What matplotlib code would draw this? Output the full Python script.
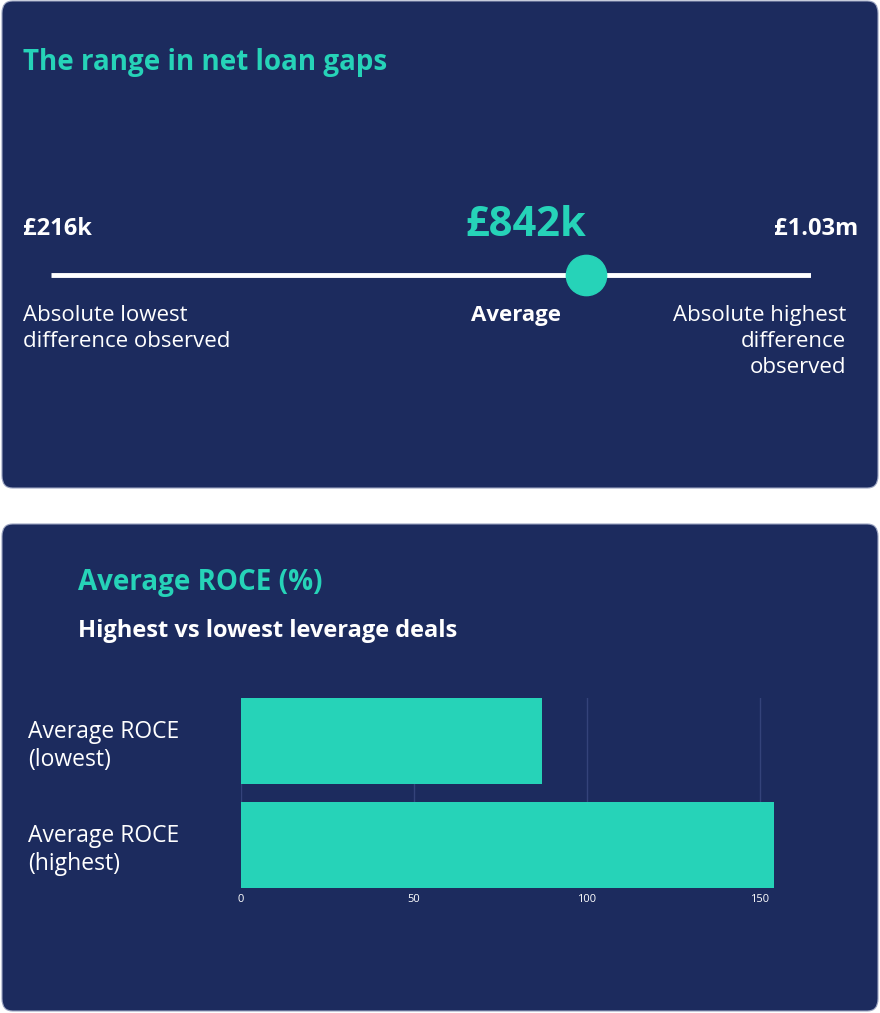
import matplotlib
matplotlib.use("Agg")
import matplotlib.pyplot as plt
from matplotlib.patches import FancyBboxPatch

# data
range_low = 216
range_avg = 842
range_high = 1030
range_labels = ["£216k", "£842k", "£1.03m"]
categories = ["Average ROCE\n(lowest)", "Average ROCE\n(highest)"]
roce_values = [87, 154]
xticks = [0, 50, 100, 150]

NAVY = "#1c2b5e"
TEAL = "#26d3b8"
W, H = 880, 1013
fig = plt.figure(figsize=(W/100, H/100), dpi=100)
fig.patch.set_facecolor("white")
plt.rcParams['font.family'] = ['Open Sans', 'DejaVu Sans']

def fx(x): return x / W
def fy(y): return 1 - y / H

# panels
for (y0, y1) in [(1, 488), (524, 1011)]:
    p = FancyBboxPatch((fx(2), fy(y1)), fx(876), (y1 - y0) / H,
                       boxstyle="round,pad=0,rounding_size=0.012",
                       transform=fig.transFigure, facecolor=NAVY, edgecolor="#9aa3c0", lw=0.8, zorder=-5)
    fig.patches.append(p)

# top panel
fig.text(fx(23), fy(70), "The range in net loan gaps", color=TEAL, fontsize=20, fontweight="bold", va="baseline")
fig.text(fx(23), fy(235), range_labels[0], color="white", fontsize=17, fontweight="bold", va="baseline")
fig.text(fx(526), fy(236), range_labels[1], color=TEAL, fontsize=30, fontweight="bold", va="baseline", ha="center")
fig.text(fx(858), fy(235), range_labels[2], color="white", fontsize=17, fontweight="bold", va="baseline", ha="right")
fig.text(fx(23), fy(305), "Absolute lowest\ndifference observed", color="white", fontsize=16, va="top", linespacing=1.3)
fig.text(fx(516), fy(305), "Average", color="white", fontsize=16, fontweight="bold", va="top", ha="center")
fig.text(fx(846), fy(305), "Absolute highest\ndifference\nobserved", color="white", fontsize=16, va="top", ha="right", linespacing=1.3, multialignment="right")

ax0 = fig.add_axes([fx(51), fy(300), fx(760), 50 / H])
ax0.set_xlim(range_low, range_low + (range_avg - range_low) * 760 / 535)
ax0.set_ylim(-1, 1)
ax0.axis("off")
ax0.plot([range_low, ax0.get_xlim()[1]], [0, 0], color="white", lw=3.5, solid_capstyle="butt")
ax0.plot([range_avg], [0], "o", color=TEAL, markersize=29, zorder=3)

# bottom panel
fig.text(fx(78), fy(590), "Average ROCE (%)", color=TEAL, fontsize=20, fontweight="bold", va="baseline")
fig.text(fx(78), fy(637), "Highest vs lowest leverage deals", color="white", fontsize=17, fontweight="bold", va="baseline")

ax = fig.add_axes([fx(241), fy(888), fx(777 - 241), (888 - 698) / H])
ax.set_facecolor(NAVY)
ypos = list(range(len(categories)))
ax.barh(ypos, roce_values, height=0.827, color=TEAL, zorder=3)
ax.set_xlim(0, 155)
ax.set_ylim(1.4135, -0.4135)
ax.set_xticks(xticks)
ax.set_yticks(ypos)
ax.set_yticklabels(categories, color="white", fontsize=16.5, linespacing=1.2)
for lab in ax.get_yticklabels():
    lab.set_horizontalalignment("left")
    lab.set_x(-213 / (777 - 241))
ax.tick_params(axis="x", colors="white", labelsize=8, length=0, pad=4)
ax.tick_params(axis="y", length=0, pad=0)
ax.grid(axis="x", color="#34437a", lw=1, zorder=0)
for s in ax.spines.values():
    s.set_visible(False)

fig.savefig("out.png", dpi=100, facecolor="white")
